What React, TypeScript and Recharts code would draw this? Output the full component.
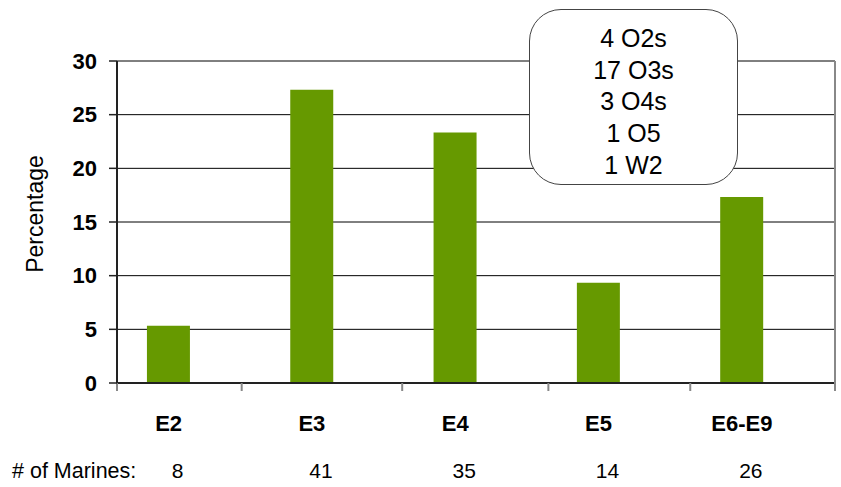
import { Bar, BarChart, CartesianGrid, XAxis, YAxis } from "recharts";

// enlisted ranks and their share of the surveyed Marines
const RANKS = ["E2", "E3", "E4", "E5", "E6-E9"];
const MARINES = [8, 41, 35, 14, 26];
const PERCENTAGE = [5.33, 27.33, 23.33, 9.33, 17.33];
const Y_TICKS = [0, 5, 10, 15, 20, 25, 30];
const CAT_TICKS = [0, 1, 2, 3, 4];
// category separator marks, in the same units as the bar positions
const SEPARATORS = [-0.36, 0.51, 1.63, 2.65, 3.64, 4.65];
const X_DOMAIN: [number, number] = [-0.36, 4.65];
const OFFICERS = ["4 O2s", "17 O3s", "3 O4s", "1 O5", "1 W2"];

const data = RANKS.map((rank, i) => ({
  pos: i,
  rank,
  marines: MARINES[i],
  pct: PERCENTAGE[i],
}));

const FONT = '"Liberation Sans", Arial, sans-serif';

function MarinesTick({ x, y, payload }: any) {
  return (
    <text x={x + 9} y={y} dy="0.71em" textAnchor="middle" fontSize={21} fill="#000" fontFamily={FONT}>
      {MARINES[payload.value]}
    </text>
  );
}

export default function App() {
  return (
    <div style={{ position: "absolute", left: 0, top: 0, width: 841, height: 487, fontFamily: FONT, background: "#fff" }}>
      <BarChart
        width={841}
        height={487}
        data={data}
        margin={{ top: 61, right: 0, bottom: 0, left: 0 }}
      >
        <CartesianGrid
          xAxisId="b_cat"
          yAxisId="pct"
          vertical={false}
          stroke="#000"
          strokeWidth={1}
        />
        <XAxis
          xAxisId="a_sep"
          type="number"
          dataKey="pos"
          domain={X_DOMAIN}
          allowDataOverflow
          ticks={SEPARATORS}
          interval={0}
          tickFormatter={() => ""}
          tickSize={8}
          height={8}
          axisLine={{ stroke: "#222", strokeWidth: 2 }}
          tickLine={{ stroke: "#888", strokeWidth: 2 }}
        />
        <XAxis
          xAxisId="b_cat"
          type="number"
          dataKey="pos"
          domain={X_DOMAIN}
          allowDataOverflow
          ticks={CAT_TICKS}
          interval={0}
          tickFormatter={(i: number) => RANKS[i]}
          axisLine={false}
          tickLine={false}
          tickSize={0}
          tickMargin={24}
          height={50}
          tick={{ fontSize: 22, fontWeight: "bold", fill: "#000", fontFamily: FONT }}
        />
        <XAxis
          xAxisId="c_marines"
          type="number"
          dataKey="pos"
          domain={X_DOMAIN}
          allowDataOverflow
          ticks={CAT_TICKS}
          interval={0}
          axisLine={false}
          tickLine={false}
          tickSize={0}
          tickMargin={22}
          height={46}
          tick={<MarinesTick />}
          label={{
            value: "# of Marines:",
            content: ({ viewBox }: any) => (
              <text x={12} y={viewBox.y + 37} fontSize={21.5} fill="#000" fontFamily={FONT}>
                # of Marines:
              </text>
            ),
          }}
        />
        <YAxis
          yAxisId="pct"
          width={117}
          domain={[0, 30]}
          ticks={Y_TICKS}
          interval={0}
          tickSize={8}
          tickMargin={12}
          axisLine={{ stroke: "#222", strokeWidth: 2 }}
          tickLine={{ stroke: "#222", strokeWidth: 1.5 }}
          tick={{ fontSize: 22, fontWeight: "bold", fill: "#000", fontFamily: FONT }}
          label={{
            value: "Percentage",
            content: ({ viewBox }: any) => {
              const cx = viewBox.x + 43;
              const cy = viewBox.y + viewBox.height / 2 - 8;
              return (
                <text
                  x={cx}
                  y={cy}
                  transform={`rotate(-90, ${cx}, ${cy})`}
                  textAnchor="middle"
                  fontSize={23}
                  fill="#000"
                  fontFamily={FONT}
                >
                  Percentage
                </text>
              );
            },
          }}
        />
        <YAxis
          yAxisId="frame"
          orientation="right"
          width={6}
          domain={[0, 30]}
          tick={false}
          tickLine={false}
          axisLine={{ stroke: "#888", strokeWidth: 2 }}
        />
        <Bar
          dataKey="pct"
          xAxisId="b_cat"
          yAxisId="pct"
          fill="#669900"
          barSize={43}
          isAnimationActive={false}
        />
      </BarChart>
      <div
        style={{
          position: "absolute",
          left: 529,
          top: 9,
          width: 209,
          height: 176,
          boxSizing: "border-box",
          border: "1px solid #444",
          borderRadius: 32,
          background: "#fff",
          paddingTop: 13,
          textAlign: "center",
          fontSize: 25,
          lineHeight: "31.7px",
          color: "#000",
        }}
      >
        {OFFICERS.map((line) => (
          <div key={line}>{line}</div>
        ))}
      </div>
    </div>
  );
}
